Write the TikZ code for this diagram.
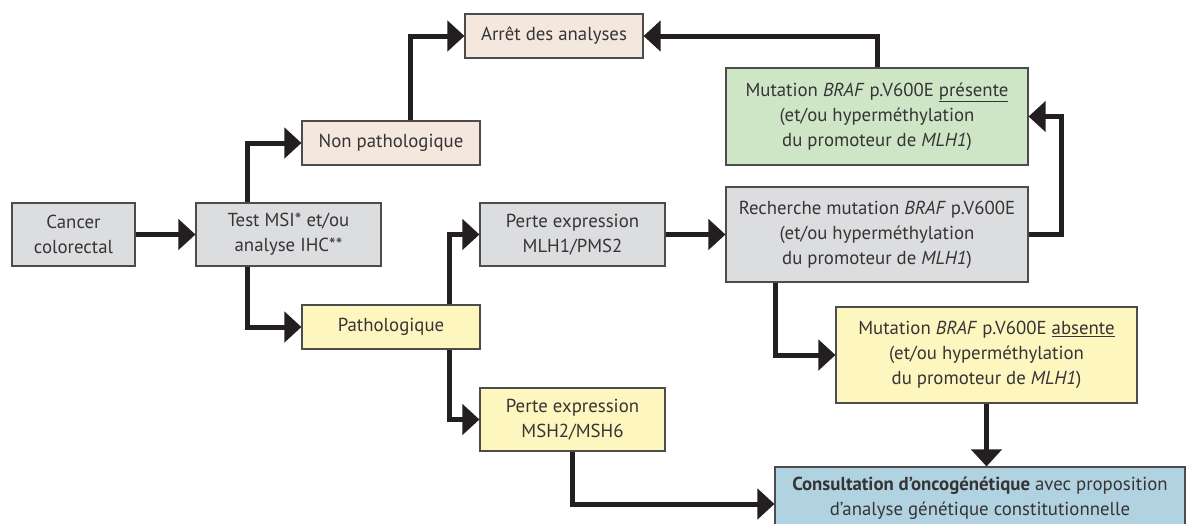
\documentclass[tikz,border=0pt]{standalone}
\usepackage{fontspec}
\setmainfont{PT Sans}
\usepackage{xcolor}
\usepackage{tikz}
\usetikzlibrary{arrows.meta,positioning,calc}
\definecolor{boxgray}{HTML}{DCDDDF}
\definecolor{boxbeige}{HTML}{F4E7DD}
\definecolor{boxyellow}{HTML}{FDF6BF}
\definecolor{boxgreen}{HTML}{CFE6C6}
\definecolor{boxblue}{HTML}{B1D3E1}
\definecolor{inkdark}{HTML}{231F20}
\definecolor{textdark}{HTML}{363435}

\begin{document}
\begin{tikzpicture}[
  x=1pt, y=-1pt,
  box/.style={draw=black!70, line width=1.1pt, align=center, inner sep=2pt,
    text=textdark, font=\fontsize{18.8}{25}\selectfont},
  arr/.style={-{Triangle[length=17pt,width=30pt]}, line width=5pt,
    draw=inkdark, line join=miter}
]
  \useasboundingbox (0,0) rectangle (1186,523);
  % first column
  \node[box, fill=boxgray, minimum width=123pt, minimum height=63pt] (cancer)
    at (73.5,234.5) {Cancer\\colorectal};
  \node[box, fill=boxgray, minimum width=185pt, minimum height=63pt] (test)
    at (288.5,234.5) {Test MSI* et/ou\\analyse IHC**};
  \node[box, fill=boxbeige, minimum width=178pt, minimum height=44pt] (nonpath)
    at (391,143) {Non pathologique};
  \node[box, fill=boxyellow, minimum width=178pt, minimum height=44pt] (patho)
    at (391,327) {Pathologique};
  \node[box, fill=boxbeige, minimum width=178pt, minimum height=44pt] (arret)
    at (554,36) {Arrêt des analyses};
  % loss of expression
  \node[box, fill=boxgray, minimum width=185pt, minimum height=63pt] (mlh)
    at (572.5,234.5) {Perte expression\\MLH1/PMS2};
  \node[box, fill=boxyellow, minimum width=185pt, minimum height=63pt] (msh)
    at (572.5,419.5) {Perte expression\\MSH2/MSH6};
  % BRAF
  \node[box, fill=boxgray, minimum width=302pt, minimum height=95pt] (braf)
    at (877,234.5) {Recherche mutation \textit{BRAF} p.V600E\\
    (et/ou hyperméthylation\\du promoteur de \textit{MLH1})};
  \node[box, fill=boxgreen, minimum width=302pt, minimum height=97pt] (present)
    at (877,116.5) {Mutation \textit{BRAF} p.V600E \underline{présente}\\
    (et/ou hyperméthylation\\du promoteur de \textit{MLH1})};
  \node[box, fill=boxyellow, minimum width=301pt, minimum height=96pt] (absente)
    at (986.5,355) {Mutation \textit{BRAF} p.V600E \underline{absente}\\
    (et/ou hyperméthylation\\du promoteur de \textit{MLH1})};
  \node[box, fill=boxblue, minimum width=410pt, minimum height=63pt] (consult)
    at (980,498.5) {\textbf{Consultation d’oncogénétique} avec proposition\\
    d’analyse génétique constitutionnelle};

  \draw[arr] (cancer) -- (test);
  \draw[arr] ([xshift=-41.5pt]test.north) |- (nonpath.west);
  \draw[arr] ([xshift=-41.5pt]test.south) |- (patho.west);
  \draw[arr] ([xshift=19pt]nonpath.north) |- (arret.west);
  \draw[arr] (present.north) |- (arret.east);
  \draw[arr] ([xshift=58pt]patho.north) |- (mlh.west);
  \draw[arr] ([xshift=58pt]patho.south) |- (msh.west);
  \draw[arr] (mlh) -- (braf);
  \draw[arr] (braf.east) -- ++(33,0) |- (present.east);
  \draw[arr] ([xshift=-102pt]braf.south) |- (absente.west);
  \draw[arr] (absente.south) -- (absente.south |- consult.north);
  \draw[arr] (msh.south) |- ([yshift=-5.5pt]consult.west);
\end{tikzpicture}
\end{document}
